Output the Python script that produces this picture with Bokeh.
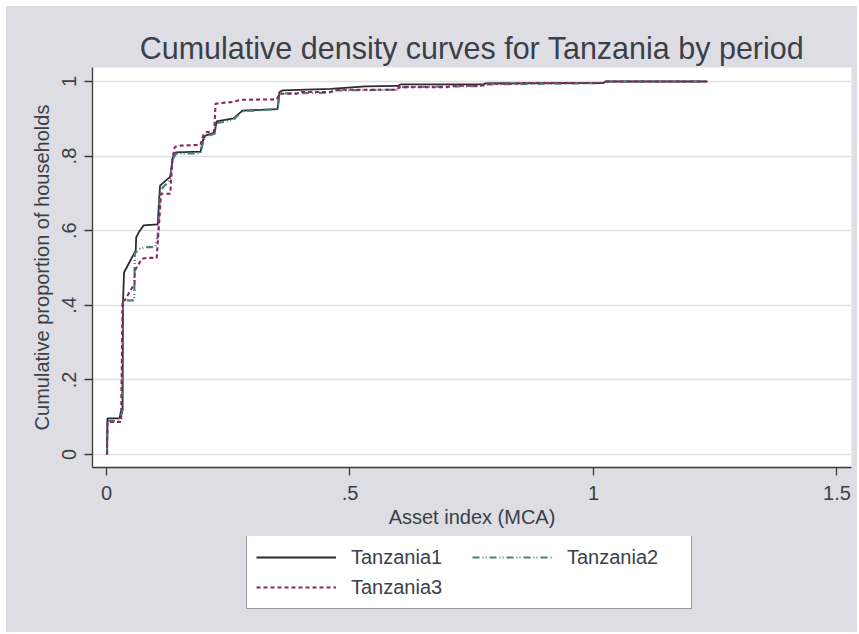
from bokeh.plotting import figure
from bokeh.models import Range1d, FixedTicker, Legend, LegendItem
from bokeh.layouts import column
from bokeh.embed import file_html
from bokeh.resources import INLINE

# ---- data ----
t1_x = [0.001, 0.002, 0.027, 0.029, 0.033, 0.034, 0.036, 0.060, 0.061, 0.066, 0.076, 0.105,
        0.110, 0.131, 0.136, 0.142, 0.193, 0.199, 0.203, 0.222, 0.226, 0.261, 0.279, 0.351,
        0.355, 0.361, 0.378, 0.460, 0.532, 0.598, 0.604, 0.774, 0.778, 1.020, 1.025, 1.234]
t1_y = [0.000, 0.097, 0.097, 0.113, 0.118, 0.413, 0.488, 0.547, 0.582, 0.595, 0.614, 0.617,
        0.721, 0.745, 0.796, 0.810, 0.812, 0.847, 0.855, 0.863, 0.893, 0.901, 0.922, 0.926,
        0.971, 0.976, 0.977, 0.980, 0.987, 0.988, 0.992, 0.992, 0.995, 0.996, 1.000, 1.000]

t2_x = [0.001, 0.002, 0.025, 0.028, 0.032, 0.034, 0.057, 0.058, 0.066, 0.080, 0.100, 0.105,
        0.110, 0.115, 0.130, 0.136, 0.142, 0.193, 0.199, 0.203, 0.222, 0.226, 0.260, 0.279,
        0.351, 0.356, 0.460, 0.470, 0.598, 0.602, 0.775, 0.780, 1.020, 1.025, 1.232]
t2_y = [0.000, 0.090, 0.090, 0.105, 0.110, 0.413, 0.413, 0.539, 0.550, 0.556, 0.556, 0.583,
        0.700, 0.715, 0.735, 0.790, 0.806, 0.808, 0.842, 0.852, 0.860, 0.888, 0.897, 0.920,
        0.926, 0.968, 0.970, 0.976, 0.978, 0.985, 0.988, 0.992, 0.996, 1.000, 1.000]

t3_x = [0.001, 0.002, 0.030, 0.033, 0.0375, 0.055, 0.0575, 0.058, 0.073, 0.083, 0.103, 0.107,
        0.112, 0.117, 0.131, 0.135, 0.140, 0.148, 0.193, 0.199, 0.203, 0.221, 0.224, 0.232,
        0.260, 0.275, 0.350, 0.355, 0.390, 0.400, 0.460, 0.470, 0.598, 0.600, 0.700, 0.710,
        0.770, 0.780, 0.840, 0.850, 1.020, 1.025, 1.230]
t3_y = [0.000, 0.087, 0.087, 0.413, 0.413, 0.453, 0.455, 0.493, 0.525, 0.527, 0.527, 0.600,
        0.699, 0.699, 0.699, 0.788, 0.824, 0.828, 0.830, 0.857, 0.864, 0.866, 0.940, 0.942,
        0.945, 0.951, 0.952, 0.967, 0.967, 0.972, 0.972, 0.978, 0.978, 0.985, 0.985, 0.989,
        0.989, 0.994, 0.994, 0.996, 0.996, 1.000, 1.000]

series_names = ["Tanzania1", "Tanzania2", "Tanzania3"]
x_ticks = [0, 0.5, 1, 1.5]
x_tick_labels = ["0", ".5", "1", "1.5"]
y_ticks = [0, 0.2, 0.4, 0.6, 0.8, 1]
y_tick_labels = ["0", ".2", ".4", ".6", ".8", "1"]

FONT = "Liberation Sans"
TXT = "#3a3f4a"
BG = "#dedde3"
COLORS = ["#2b2b2b", "#4a7e7f", "#8e2560"]
DASHES = ["solid", "7 3 1 2 1 3", "4 3"]
WIDTHS = [1.8, 2.2, 2.1]
XS = [t1_x, t2_x, t3_x]
YS = [t1_y, t2_y, t3_y]

p = figure(width=851, height=530, output_backend="svg", toolbar_location=None,
           x_range=Range1d(-0.02875, 1.5298), y_range=Range1d(-0.0349, 1.0375),
           min_border_left=86, min_border_right=6, min_border_top=61, min_border_bottom=69)
p.background_fill_color = "white"
p.border_fill_color = BG
p.outline_line_color = None

p.title.text = "Cumulative density curves for Tanzania by period"
p.title.align = "center"
p.title.text_font = FONT
p.title.text_font_size = "30.5px"
p.title.text_font_style = "normal"
p.title.text_color = TXT
p.title.standoff = 5

for ax in (p.xaxis[0], p.yaxis[0]):
    ax.axis_line_color = "#3a3a3a"
    ax.axis_line_width = 1.3
    ax.major_tick_line_color = "#3a3a3a"
    ax.major_tick_line_width = 1.3
    ax.major_tick_out = 8
    ax.major_tick_in = 0
    ax.minor_tick_line_color = None
    ax.major_label_text_font = FONT
    ax.major_label_text_font_size = "20px"
    ax.major_label_text_color = TXT
    ax.axis_label_text_font = FONT
    ax.axis_label_text_font_size = "20px"
    ax.axis_label_text_font_style = "normal"
    ax.axis_label_text_color = TXT

p.xaxis.ticker = FixedTicker(ticks=x_ticks)
p.xaxis.major_label_overrides = dict(zip(x_ticks, x_tick_labels))
p.yaxis.ticker = FixedTicker(ticks=y_ticks)
p.yaxis.major_label_overrides = dict(zip(y_ticks, y_tick_labels))
p.yaxis.major_label_orientation = "vertical"
p.xaxis.axis_label = "Asset index (MCA)"
p.yaxis.axis_label = "Cumulative proportion of households"
p.xaxis.major_label_standoff = 10
p.yaxis.major_label_standoff = 8
p.xaxis.axis_label_standoff = 3
p.yaxis.axis_label_standoff = 7

p.xgrid.grid_line_color = None
p.ygrid.grid_line_color = "#dddde3"
p.ygrid.grid_line_width = 1.5

for i in range(3):
    p.line(XS[i], YS[i], line_color=COLORS[i], line_width=WIDTHS[i], line_dash=DASHES[i])

# legend strip underneath (same background); its swatch lines are the same series,
# drawn outside the strip's visible range so only the legend shows
p2 = figure(width=851, height=96, output_backend="svg", toolbar_location=None,
            x_range=Range1d(-10, -9), y_range=Range1d(-10, -9),
            x_axis_type=None, y_axis_type=None,
            min_border_left=0, min_border_right=0, min_border_top=0, min_border_bottom=0)
p2.background_fill_color = BG
p2.border_fill_color = BG
p2.outline_line_color = None
p2.grid.visible = False
s = [p2.line(XS[i], YS[i], line_color=COLORS[i], line_width=WIDTHS[i], line_dash=DASHES[i])
     for i in range(3)]

# vertical orientation fills columns first: T1,T3 in column 1, T2 in column 2
legend = Legend(items=[LegendItem(label=series_names[0], renderers=[s[0]]),
                       LegendItem(label=series_names[2], renderers=[s[2]]),
                       LegendItem(label=series_names[1], renderers=[s[1]])],
                location=(154, 23), orientation="vertical", nrows=2)
legend.label_text_font = FONT
legend.label_text_font_size = "20px"
legend.label_text_color = TXT
legend.glyph_width = 80
legend.glyph_height = 24
legend.label_height = 24
legend.label_width = 115
legend.label_standoff = 15
legend.spacing = 6
legend.padding = 9
legend.margin = 0
legend.border_line_color = "#333333"
legend.border_line_width = 1.2
legend.background_fill_color = "white"
legend.background_fill_alpha = 1
p2.add_layout(legend, "center")

layout = column(p, p2, spacing=0, margin=(6, 0, 0, 6),
                styles={"background-color": BG})
open("out.html", "w").write(file_html(layout, INLINE))
